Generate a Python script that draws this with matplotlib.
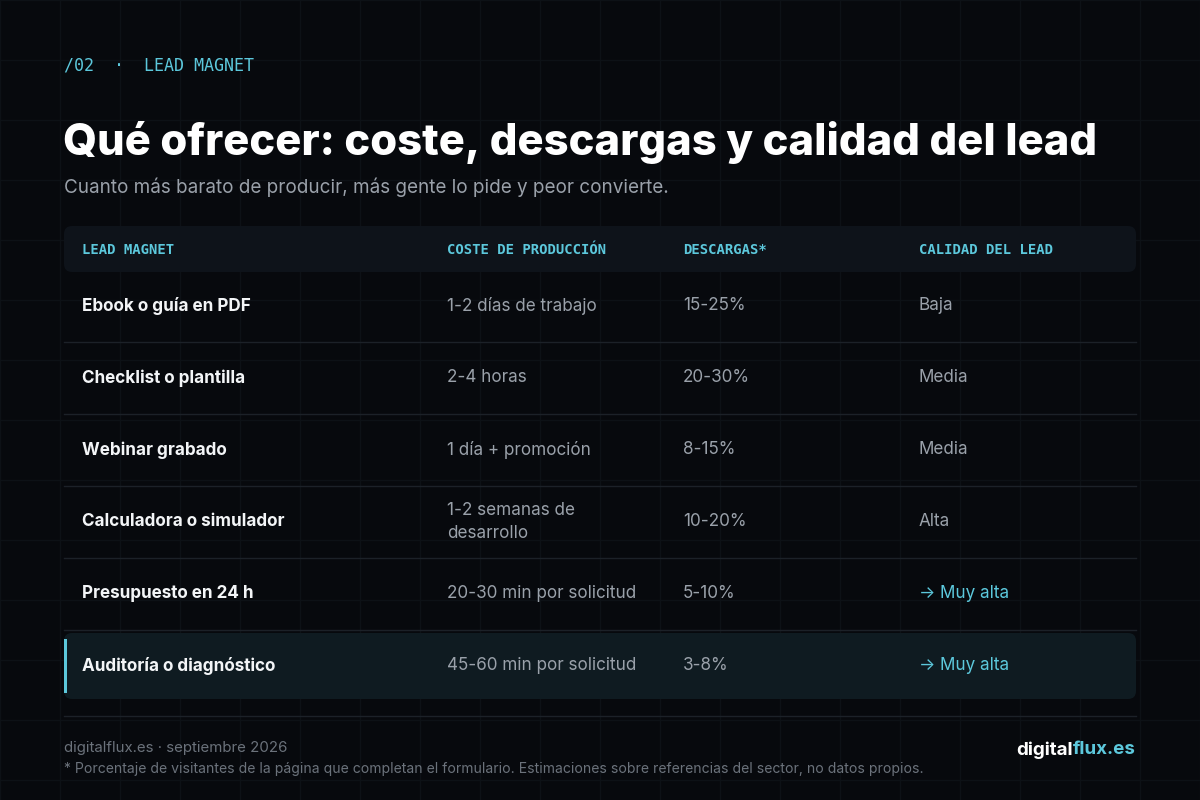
import matplotlib
matplotlib.use("Agg")
import matplotlib.pyplot as plt
from matplotlib.patches import FancyBboxPatch, Rectangle

# table content
headers = ["LEAD MAGNET", "COSTE DE PRODUCCIÓN", "DESCARGAS*", "CALIDAD DEL LEAD"]
magnets = ["Ebook o guía en PDF", "Checklist o plantilla", "Webinar grabado",
           "Calculadora o simulador", "Presupuesto en 24 h", "Auditoría o diagnóstico"]
costs = ["1-2 días de trabajo", "2-4 horas", "1 día + promoción",
         "1-2 semanas de\ndesarrollo", "20-30 min por solicitud", "45-60 min por solicitud"]
downloads = ["15-25%", "20-30%", "8-15%", "10-20%", "5-10%", "3-8%"]
quality = ["Baja", "Media", "Media", "Alta", "→ Muy alta", "→ Muy alta"]
highlight = 5

BG = "#07090d"
CYAN = "#5cc8dc"
WHITE = "#f3f5f7"
GREY = "#9aa1aa"
DIM = "#6b727b"
LINE = "#1c2128"
SANS = ["Inter", "DejaVu Sans"]
MONO = ["DejaVu Sans Mono"]

fig = plt.figure(figsize=(12, 8), dpi=100, facecolor=BG)
ax = fig.add_axes([0, 0, 1, 1])
ax.set_xlim(0, 1200)
ax.set_ylim(800, 0)
ax.axis("off")
ax.set_facecolor(BG)

# background grid
for gx in range(0, 1201, 60):
    ax.axvline(gx, color="#0d1116", lw=1, zorder=0)
for gy in range(0, 801, 60):
    ax.axhline(gy, color="#0d1116", lw=1, zorder=0)

ax.text(64, 66, "/02  ·  LEAD MAGNET", color=CYAN, fontsize=12, family=MONO,
        va="center", ha="left")
ax.text(63, 142, "Qué ofrecer: coste, descargas y calidad del lead", color="white",
        fontsize=31.3, fontweight=800, family=SANS, va="center", ha="left")
ax.text(64, 187, "Cuanto más barato de producir, más gente lo pide y peor convierte.",
        color=GREY, fontsize=13.6, family=SANS, va="center", ha="left")

col_x = [82, 447, 683, 919]
left, right = 64, 1136

# header band
ax.add_patch(FancyBboxPatch((left, 226), right - left, 46,
                            boxstyle="round,pad=0,rounding_size=8",
                            fc="#0e131a", ec="none", zorder=1))
for x, h in zip(col_x, headers):
    ax.text(x, 250, h, color=CYAN, fontsize=10, family=MONO, fontweight="bold",
            va="center", ha="left", zorder=3)

row_h = 72
top = 270
for i in range(len(magnets)):
    yc = top + row_h * i + row_h / 2
    if i == highlight:
        ax.add_patch(FancyBboxPatch((left, yc - 33), right - left, 66,
                                    boxstyle="round,pad=0,rounding_size=8",
                                    fc="#0f1b21", ec="none", zorder=1))
        ax.add_patch(Rectangle((left, yc - 27), 3, 54, fc=CYAN, ec="none", zorder=2))
    else:
        ax.plot([left, right], [yc + 36, yc + 36], color=LINE, lw=1, zorder=2)
    ax.text(col_x[0], yc, magnets[i], color=WHITE, fontsize=12.3, fontweight="bold",
            family=SANS, va="center", ha="left", zorder=3)
    ax.text(col_x[1], yc, costs[i], color=GREY, fontsize=12.3, family=SANS,
            va="center", ha="left", linespacing=1.45, zorder=3)
    ax.text(col_x[2], yc, downloads[i], color=GREY, fontsize=12.3, family=SANS,
            va="center", ha="left", zorder=3)
    qcol = CYAN if quality[i].startswith("→") else GREY
    ax.text(col_x[3], yc, quality[i], color=qcol, fontsize=12.3, family=SANS,
            va="center", ha="left", zorder=3)
ax.plot([left, right], [716, 716], color=LINE, lw=1, zorder=2)

ax.text(64, 748, "digitalflux.es · septiembre 2026", color=DIM, fontsize=10.8,
        family=SANS, va="center", ha="left")
ax.text(64, 769, "* Porcentaje de visitantes de la página que completan el formulario. "
        "Estimaciones sobre referencias del sector, no datos propios.",
        color=DIM, fontsize=10.1, family=SANS, va="center", ha="left")

t = ax.text(1136, 750, "flux.es", color=CYAN, fontsize=13.5, fontweight="bold",
            family=SANS, va="center", ha="right")
fig.canvas.draw()
bb = t.get_window_extent()
x0 = ax.transData.inverted().transform((bb.x0, bb.y0))[0]
ax.text(x0, 750, "digital", color="white", fontsize=13.5, fontweight="bold",
        family=SANS, va="center", ha="right")

fig.savefig("out.png", dpi=100, facecolor=BG)
